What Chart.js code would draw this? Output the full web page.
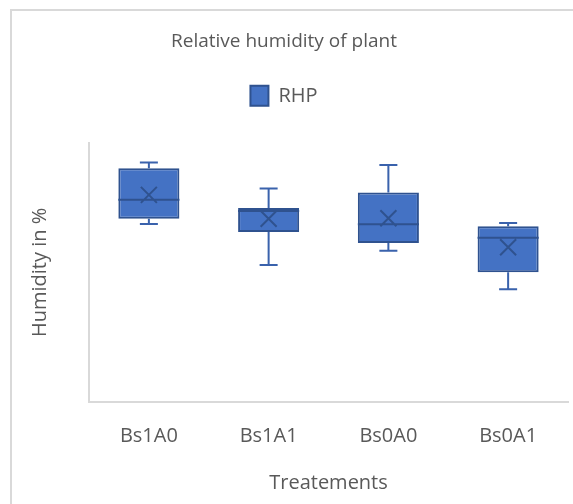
<!DOCTYPE html>
<html>
<head>
<meta charset="utf-8">
<script src="https://cdn.jsdelivr.net/npm/chart.js@4.4.1/dist/chart.umd.min.js"></script>
<style>
  html, body { margin: 0; padding: 0; background: #fff; overflow: hidden; }
  #wrap { position: relative; width: 573px; height: 504px; }
  #frame { position: absolute; left: 10px; top: 9px; width: 700px; height: 600px;
           border-left: 2px solid #d9d9d9; border-top: 2px solid #d9d9d9; }
  #myChart { position: absolute; left: 0; top: 0; }
</style>
</head>
<body>
<div id="wrap">
  <div id="frame"></div>
  <canvas id="myChart" width="573" height="504"></canvas>
</div>
<script>
// box plot values (axis has no tick labels, assumed 0-100)
var categories = ['Bs1A0', 'Bs1A1', 'Bs0A0', 'Bs0A1'];
var minVals = [68.7, 52.9, 58.4, 43.5];
var q1Vals = [70.7, 65.6, 61.3, 50.1];
var medianVals = [78.0, 73.7, 68.6, 63.4];
var q3Vals = [90.2, 74.8, 80.8, 67.8];
var maxVals = [92.4, 82.4, 91.4, 69.1];
var meanVals = [79.9, 70.7, 70.9, 59.7];

document.addEventListener('DOMContentLoaded', function () {
    var ctx = document.getElementById('myChart').getContext('2d');
    var font = "'Open Sans', sans-serif";
    var grey = '#595959';

    // push chart area down below the legend
    var legendGap = {
        id: 'legendGap',
        beforeInit: function (chart) {
            var fit = chart.legend.fit;
            chart.legend.fit = function () {
                fit.bind(chart.legend)();
                this.height += 27;
            };
        }
    };

    var boxParts = {
        id: 'boxParts',
        beforeDatasetsDraw: function (chart) {
            var c = chart.ctx, xs = chart.scales.x, ys = chart.scales.y;
            c.save();
            c.strokeStyle = '#3a62ac';
            c.lineWidth = 2;
            for (var i = 0; i < categories.length; i++) {
                var x = xs.getPixelForValue(i);
                var yMin = ys.getPixelForValue(minVals[i]);
                var yMax = ys.getPixelForValue(maxVals[i]);
                var yQ1 = ys.getPixelForValue(q1Vals[i]);
                var yQ3 = ys.getPixelForValue(q3Vals[i]);
                c.beginPath();
                c.moveTo(x, yQ3); c.lineTo(x, yMax);
                c.moveTo(x - 9, yMax); c.lineTo(x + 9, yMax);
                c.moveTo(x, yQ1); c.lineTo(x, yMin);
                c.moveTo(x - 9, yMin); c.lineTo(x + 9, yMin);
                c.stroke();
            }
            c.restore();
        },
        afterDatasetsDraw: function (chart) {
            var c = chart.ctx, xs = chart.scales.x, ys = chart.scales.y;
            var meta = chart.getDatasetMeta(0);
            c.save();
            c.strokeStyle = '#2f528f';
            c.lineWidth = 2;
            for (var i = 0; i < categories.length; i++) {
                var x = xs.getPixelForValue(i);
                var half = meta.data[i].width / 2;
                var yMed = ys.getPixelForValue(medianVals[i]);
                var yMean = ys.getPixelForValue(meanVals[i]);
                c.beginPath();
                c.moveTo(x - half, yMed); c.lineTo(x + half, yMed);
                c.moveTo(x - 8, yMean - 8); c.lineTo(x + 8, yMean + 8);
                c.moveTo(x - 8, yMean + 8); c.lineTo(x + 8, yMean - 8);
                c.stroke();
            }
            c.restore();
        }
    };

    var myChart = new Chart(ctx, {
        type: 'bar',
        data: {
            labels: categories,
            datasets: [{
                label: 'RHP',
                data: categories.map(function (c, i) { return [q1Vals[i], q3Vals[i]]; }),
                backgroundColor: '#4472c4',
                borderColor: '#2f528f',
                borderWidth: 2,
                borderSkipped: false,
                categoryPercentage: 1,
                barPercentage: 0.51
            }]
        },
        options: {
            responsive: false,
            animation: false,
            layout: { padding: { left: 0, right: 5, top: 0, bottom: 0 } },
            scales: {
                x: {
                    grid: { display: false, drawTicks: false },
                    border: { display: true, color: '#d9d9d9', width: 2 },
                    ticks: { color: grey, font: { family: font, size: 20 }, padding: 22 },
                    title: {
                        display: true,
                        text: 'Treatements',
                        color: grey,
                        font: { family: font, size: 20 },
                        padding: { top: 1, bottom: 9 }
                    }
                },
                y: {
                    min: 0,
                    max: 100,
                    grid: { display: false, drawTicks: false },
                    border: { display: true, color: '#d9d9d9', width: 2 },
                    ticks: { display: false },
                    title: {
                        display: true,
                        text: 'Humidity in %',
                        color: grey,
                        font: { family: font, size: 20 },
                        padding: { top: 28, bottom: 37 }
                    }
                }
            },
            plugins: {
                title: {
                    display: true,
                    text: 'Relative humidity of plant',
                    color: grey,
                    font: { family: font, size: 19, weight: 'normal' },
                    padding: { top: 30, bottom: 23 }
                },
                legend: {
                    labels: {
                        boxWidth: 18,
                        boxHeight: 20,
                        color: grey,
                        font: { family: font, size: 20 }
                    }
                },
                tooltip: { enabled: false }
            }
        },
        plugins: [legendGap, boxParts]
    });
});
</script>
</body>
</html>
